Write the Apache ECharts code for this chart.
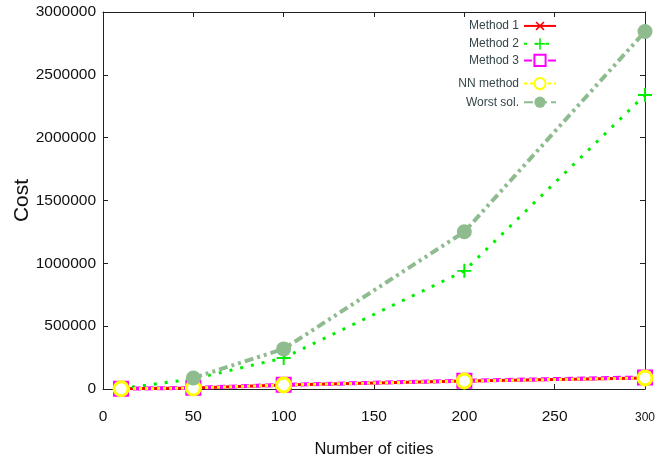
<!DOCTYPE html>
<html><head><meta charset="utf-8">
<script src="https://cdn.jsdelivr.net/npm/echarts@6/dist/echarts.min.js"></script>
<style>html,body{margin:0;padding:0;background:#fff}#c{width:667px;height:461px}</style>
</head><body><div id="c"></div>
<script>
const cities = [10, 50, 100, 200, 300];
const method1 = [2000, 8000, 32000, 64000, 88000];
const method2 = [4000, 80000, 247000, 940000, 2340000];
const method3 = [2500, 9000, 33000, 66000, 92000];
const nnMethod = [2000, 8000, 32000, 64000, 88000];
const worstSol = [null, 88000, 319000, 1251000, 2845000];
const xTicks = [0, 50, 100, 150, 200, 250, 300];
const yTicks = [0, 500000, 1000000, 1500000, 2000000, 2500000, 3000000];

const FONT = '"Liberation Sans", Arial, sans-serif';
const pts = arr => cities.map((c, i) => [c, arr[i]]);
const plusPath = 'path://M0,4.3H10V5.7H0Z M4.3,0H5.7V10H4.3Z';

const chart = echarts.init(document.getElementById('c'), null, {renderer: 'canvas'});
const axisCommon = {
  axisLine: {onZero: false, lineStyle: {color: '#222', width: 1}},
  axisTick: {inside: true, length: 5, lineStyle: {color: '#222'}},
  splitLine: {show: false}
};
chart.setOption({
  animation: false,
  backgroundColor: '#fff',
  grid: {left: 103, right: 22, top: 12, bottom: 72, containLabel: false, outerBoundsMode: 'none'},
  legend: [{
    right: 105, top: 13, orient: 'vertical', align: 'right', itemGap: 4,
    itemWidth: 32, itemHeight: 14,
    textStyle: {fontFamily: FONT, fontSize: 12, color: '#34454a'},
    data: ['Method 1', 'Method 2', 'Method 3']
  }, {
    right: 105, top: 72, orient: 'vertical', align: 'right', itemGap: 6,
    itemWidth: 32, itemHeight: 14,
    textStyle: {fontFamily: FONT, fontSize: 12, color: '#34454a'},
    data: ['NN method', 'Worst sol.']
  }],
  xAxis: [Object.assign({
    type: 'value', min: 0, max: 300, interval: 50,
    name: 'Number of cities', nameLocation: 'middle', nameGap: 52, nameMoveOverlap: false,
    nameTextStyle: {fontFamily: FONT, fontSize: 16.5, color: '#111'},
    axisLabel: {
      fontFamily: FONT, fontSize: 15.5, color: '#111', margin: 20,
      formatter: v => v === 300 ? '{s|300}' : String(v),
      rich: {s: {fontFamily: FONT, fontSize: 12, color: '#111', padding: [3, 0, 0, 0]}}
    }
  }, axisCommon), Object.assign({
    type: 'value', position: 'top', min: 0, max: 300, interval: 50,
    axisLabel: {show: false}
  }, axisCommon)],
  yAxis: [Object.assign({
    type: 'value', min: 0, max: 3000000, interval: 500000,
    name: 'Cost', nameLocation: 'middle', nameGap: 70, nameRotate: 90, nameMoveOverlap: false,
    nameTextStyle: {fontFamily: FONT, fontSize: 21, color: '#111'},
    axisLabel: {fontFamily: FONT, fontSize: 15.5, color: '#111', margin: 7,
      formatter: v => String(v)}
  }, axisCommon), Object.assign({
    type: 'value', position: 'right', min: 0, max: 3000000, interval: 500000,
    axisLabel: {show: false}
  }, axisCommon)],
  series: [{
    name: 'Method 1', type: 'line', data: pts(method1),
    lineStyle: {color: '#ff0000', width: 3, type: 'solid'},
    itemStyle: {color: '#ff0000'},
    symbol: plusPath, symbolRotate: 45, symbolSize: 15, z: 2
  }, {
    name: 'Method 2', type: 'line', data: pts(method2),
    lineStyle: {color: '#00ee00', width: 3, type: [3, 8]},
    itemStyle: {color: '#00ee00'},
    symbol: plusPath, symbolSize: 14, z: 3
  }, {
    name: 'Method 3', type: 'line', data: pts(method3),
    lineStyle: {color: '#ff00ff', width: 4, type: [8, 4]},
    itemStyle: {color: '#fff', borderColor: '#ff00ff', borderWidth: 2},
    symbol: 'rect', symbolSize: 14, z: 4
  }, {
    name: 'NN method', type: 'line', data: pts(nnMethod),
    lineStyle: {color: '#ffff00', width: 3, type: [3, 3]},
    itemStyle: {color: '#fff', borderColor: '#ffff00', borderWidth: 3},
    symbol: 'circle', symbolSize: 14, z: 5
  }, {
    name: 'Worst sol.', type: 'line', data: pts(worstSol),
    lineStyle: {color: '#8fbc8f', width: 4, type: [9, 4, 3, 4, 3, 4]},
    itemStyle: {color: '#8fbc8f'},
    symbol: 'circle', symbolSize: 15, z: 6
  }]
});
</script></body></html>
